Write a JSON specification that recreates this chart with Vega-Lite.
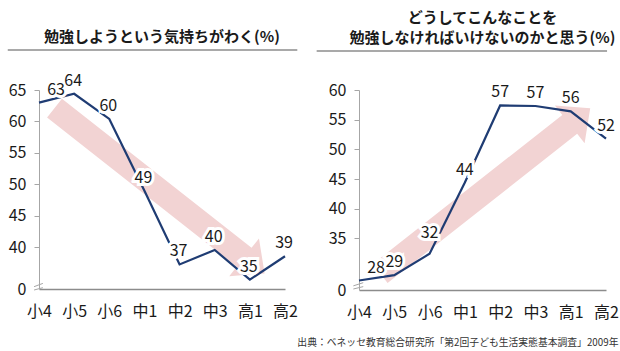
{
  "$schema": "https://vega.github.io/schema/vega-lite/v6.json",
  "padding": {"left": 7, "top": 11, "right": 2, "bottom": 2},
  "background": "white",
  "config": {
    "font": "Noto Sans CJK JP",
    "view": {"stroke": null},
    "concat": {"spacing": 16},
    "axis": {"grid": false, "title": null, "labelFontSize": 16, "labelColor": "#1a1a1a", "labelFlush": false, "labelOverlap": false, "labelBound": false},
    "axisX": {"ticks": false, "domainColor": "#8c8c8c", "domainWidth": 1.5, "labelPadding": 14, "values": [0, 1, 2, 3, 4, 5, 6, 7], "labelExpr": "['小4','小5','小6','中1','中2','中3','高1','高2'][datum.value]"},
    "axisY": {"domainColor": "#a6a6a6", "tickColor": "#a6a6a6", "tickSize": 5, "labelPadding": 8, "minExtent": 31, "maxExtent": 31},
    "title": {"font": "Noto Sans CJK JP", "fontSize": 15, "fontWeight": "bold", "color": "#1a1a1a"}
  },
  "datasets": {
    "leftLine": [
      {"学年": "小4", "i": 0, "pct": 63.0},
      {"学年": "小5", "i": 1, "pct": 64.4},
      {"学年": "小6", "i": 2, "pct": 60.4},
      {"学年": "中1", "i": 3, "pct": 49.0},
      {"学年": "中2", "i": 4, "pct": 37.3},
      {"学年": "中3", "i": 5, "pct": 39.6},
      {"学年": "高1", "i": 6, "pct": 34.9},
      {"学年": "高2", "i": 7, "pct": 38.6}
    ],
    "rightLine": [
      {"学年": "小4", "i": 0, "pct": 27.9},
      {"学年": "小5", "i": 1, "pct": 28.8},
      {"学年": "小6", "i": 2, "pct": 32.4},
      {"学年": "中1", "i": 3, "pct": 44.4},
      {"学年": "中2", "i": 4, "pct": 57.4},
      {"学年": "中3", "i": 5, "pct": 57.3},
      {"学年": "高1", "i": 6, "pct": 56.4},
      {"学年": "高2", "i": 7, "pct": 51.8}
    ],
    "leftArrow": [{"i": 3.43, "pct": 49.0}],
    "rightArrow": [{"i": 3.576, "pct": 43.0}],
    "leftBreak": [
      {"i": -0.14, "i2": 0.11, "pct": 33.77, "pct2": 34.29},
      {"i": -0.14, "i2": 0.11, "pct": 33.24, "pct2": 33.61}
    ],
    "rightBreak": [
      {"i": -0.16, "i2": 0.12, "pct": 27.0, "pct2": 27.53},
      {"i": -0.16, "i2": 0.12, "pct": 26.47, "pct2": 26.87}
    ],
    "leftRule": [{"i": -0.889, "i2": 7.35, "pct": 71.34}],
    "rightRule": [{"i": -1.2, "i2": 7.03, "pct": 66.57}]
  },
  "title": {
    "text": "出典：ベネッセ教育総合研究所「第2回子ども生活実態基本調査」2009年",
    "orient": "bottom", "anchor": "end", "fontSize": 9.8, "fontWeight": "normal", "color": "#333333", "offset": 18
  },
  "hconcat": [
    {
      "width": 246,
      "height": 199,
      "title": {"text": "勉強しようという気持ちがわく(%)", "offset": 4},
      "encoding": {
        "x": {"field": "i", "type": "quantitative", "scale": {"domain": [0, 7], "nice": false, "zero": false}},
        "y": {"field": "pct", "type": "quantitative", "scale": {"domain": [33.4, 65], "nice": false, "zero": false},
              "axis": {"values": [33.4, 40, 45, 50, 55, 60, 65], "labelExpr": "datum.value < 35 ? '0' : datum.label",
                       "tickOpacity": {"condition": {"test": "datum.value < 35", "value": 0}, "value": 1}}}
      },
      "layer": [
        {"data": {"name": "leftArrow"},
         "mark": {"type": "point", "filled": true, "fill": "#f2d3d3", "fillOpacity": 1, "strokeWidth": 0, "size": 71450, "angle": 38.2,
                  "shape": "M-1,-0.09L0.805,-0.09L0.805,-0.18L1,0L0.805,0.18L0.805,0.09L-1,0.09Z"}},
        {"data": {"name": "leftRule"}, "mark": {"type": "rule", "color": "#8c8c8c", "strokeWidth": 1.5},
         "encoding": {"x2": {"field": "i2"}}},
        {"data": {"name": "leftBreak"}, "mark": {"type": "rule", "color": "#a6a6a6", "strokeWidth": 1},
         "encoding": {"x2": {"field": "i2"}, "y2": {"field": "pct2"}}},
        {"data": {"name": "leftLine"}, "mark": {"type": "line", "color": "#1f3c73", "strokeWidth": 2.2}},
        {"data": {"name": "leftLine"},
         "mark": {"type": "text", "fontSize": 16, "fill": "white", "stroke": "white", "strokeWidth": 6, "strokeJoin": "miter", "baseline": "middle",
                  "dx": {"expr": "datum.i == 0 ? 17 : -1"}, "dy": -13},
         "encoding": {"text": {"field": "pct", "format": ".0f"}}},
        {"data": {"name": "leftLine"},
         "mark": {"type": "text", "fontSize": 16, "fill": "#1a1a1a", "baseline": "middle",
                  "dx": {"expr": "datum.i == 0 ? 17 : -1"}, "dy": -13},
         "encoding": {"text": {"field": "pct", "format": ".0f"}}}
      ]
    },
    {
      "width": 247,
      "height": 200,
      "title": {"text": ["どうしてこんなことを", "勉強しなければいけないのかと思う(%)"], "offset": 4, "lineHeight": 20},
      "encoding": {
        "x": {"field": "i", "type": "quantitative", "scale": {"domain": [0, 7], "nice": false, "zero": false}},
        "y": {"field": "pct", "type": "quantitative", "scale": {"domain": [26.3, 60], "nice": false, "zero": false},
              "axis": {"values": [26.3, 35, 40, 45, 50, 55, 60], "labelExpr": "datum.value < 30 ? '0' : datum.label",
                       "tickOpacity": {"condition": {"test": "datum.value < 30", "value": 0}, "value": 1}}}
      },
      "layer": [
        {"data": {"name": "rightArrow"},
         "mark": {"type": "point", "filled": true, "fill": "#f2d3d3", "fillOpacity": 1, "strokeWidth": 0, "size": 71450, "angle": 321.8,
                  "shape": "M-1,-0.09L0.805,-0.09L0.805,-0.18L1,0L0.805,0.18L0.805,0.09L-1,0.09Z"}},
        {"data": {"name": "rightRule"}, "mark": {"type": "rule", "color": "#8c8c8c", "strokeWidth": 1.5},
         "encoding": {"x2": {"field": "i2"}}},
        {"data": {"name": "rightBreak"}, "mark": {"type": "rule", "color": "#a6a6a6", "strokeWidth": 1},
         "encoding": {"x2": {"field": "i2"}, "y2": {"field": "pct2"}}},
        {"data": {"name": "rightLine"}, "mark": {"type": "line", "color": "#1f3c73", "strokeWidth": 2.2}},
        {"data": {"name": "rightLine"},
         "mark": {"type": "text", "fontSize": 16, "fill": "white", "stroke": "white", "strokeWidth": 6, "strokeJoin": "miter", "baseline": "middle",
                  "dx": {"expr": "datum.i == 0 ? 17 : 0"}, "dy": {"expr": "datum.i == 2 ? -21 : -13"}},
         "encoding": {"text": {"field": "pct", "format": ".0f"}}},
        {"data": {"name": "rightLine"},
         "mark": {"type": "text", "fontSize": 16, "fill": "#1a1a1a", "baseline": "middle",
                  "dx": {"expr": "datum.i == 0 ? 17 : 0"}, "dy": {"expr": "datum.i == 2 ? -21 : -13"}},
         "encoding": {"text": {"field": "pct", "format": ".0f"}}}
      ]
    }
  ]
}
